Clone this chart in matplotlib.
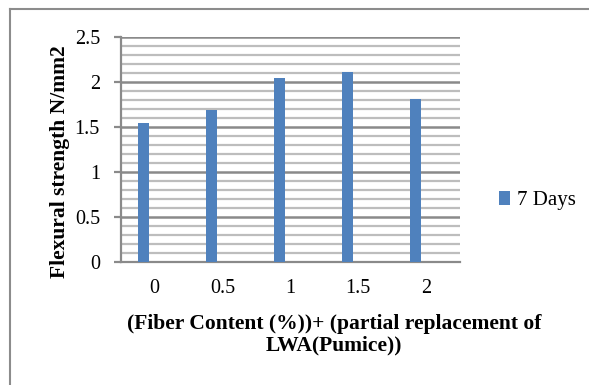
import numpy as np
import matplotlib
matplotlib.use("Agg")
import matplotlib.pyplot as plt

# donnees
categories = ["0", "0.5", "1", "1.5", "2"]
valeurs_7j = [1.55, 1.69, 2.05, 2.11, 1.81]
nom_serie = "7 Days"

plt.rcParams['font.family'] = 'serif'
plt.rcParams['font.serif'] = ['Liberation Serif', 'DejaVu Serif']

fig = plt.figure(figsize=(5.89, 3.85), dpi=100)
ax = fig.add_axes([0.205, 0.320, 0.576, 0.583])

# cadre exterieur gris (haut et gauche)
fig.add_artist(plt.Line2D([10/589, 10/589], [0, 1 - 9/385], color='#8c8c8c', lw=1.5))
fig.add_artist(plt.Line2D([10/589, 1], [1 - 9/385, 1 - 9/385], color='#8c8c8c', lw=1.5))

x = np.arange(len(categories))
largeur = 0.162
ax.bar(x - largeur, valeurs_7j, width=largeur, color='#4F81BD', label=nom_serie, zorder=3)

ax.set_xlim(-0.5, len(categories) - 0.5)
ax.set_ylim(0, 2.5)
ax.set_yticks(np.arange(0, 2.51, 0.5))
ax.set_yticklabels(["0", "0.5", "1", "1.5", "2", "2.5"])
ax.set_yticks(np.arange(0, 2.51, 0.1), minor=True)
ax.set_xticks(x)
ax.set_xticklabels(categories)

ax.grid(axis='y', which='minor', color='#bdbdbd', lw=1.6, zorder=0)
ax.grid(axis='y', which='major', color='#8a8a8a', lw=1.8, zorder=1)

for s in ['top', 'right']:
    ax.spines[s].set_visible(False)
ax.spines['left'].set_color('#8a8a8a')
ax.spines['left'].set_linewidth(1.6)
ax.spines['bottom'].set_color('#8a8a8a')
ax.spines['bottom'].set_linewidth(1.6)

taille = 14.5
ax.tick_params(axis='y', which='major', length=5, color='#8a8a8a', width=1.6,
               labelsize=taille, pad=10)
ax.tick_params(axis='y', which='minor', length=0)
ax.tick_params(axis='x', length=0, labelsize=taille, pad=12.5)

ax.set_ylabel("Flexural strength N/mm2", fontsize=15.5, fontweight='bold',
              va='center', ha='center')
ax.yaxis.set_label_coords(-0.178, 0.445)
ax.set_xlabel("(Fiber Content (%))+ (partial replacement of\nLWA(Pumice))",
              fontsize=15.5, fontweight='bold', linespacing=1.1,
              va='center', ha='center')
ax.xaxis.set_label_coords(0.629, -0.325)

ax.legend(loc='center left', bbox_to_anchor=(1.115, 0.272), frameon=False,
          fontsize=15, handlelength=0.55, handleheight=0.6, handletextpad=0.3,
          borderaxespad=0, borderpad=0)

fig.savefig("out.png", dpi=100)
